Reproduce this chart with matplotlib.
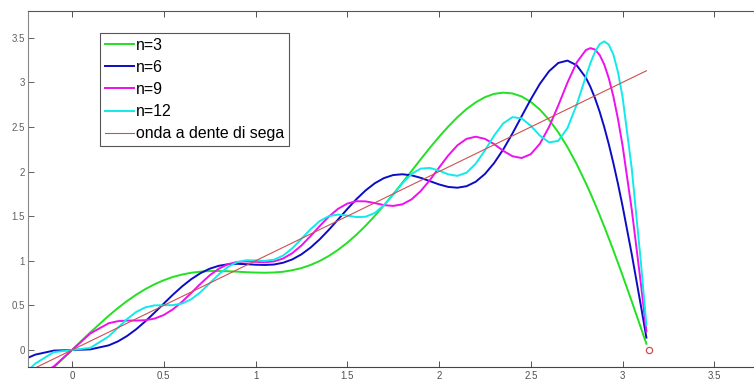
import matplotlib
matplotlib.use('Agg')
import matplotlib.pyplot as plt
from matplotlib.ticker import FormatStrFormatter

plt.rcParams['font.family'] = ['Liberation Sans', 'DejaVu Sans']

# somme parziali della serie di Fourier dell'onda a dente di sega
x = [-0.25, -0.2, -0.1, 0, 0.1, 0.2, 0.25,
     0.3, 0.35, 0.4, 0.45, 0.5, 0.55, 0.6, 0.65, 0.7, 0.75, 0.8, 0.85, 0.9, 0.95,
     1.0, 1.05, 1.1, 1.15, 1.2, 1.25, 1.3, 1.35, 1.4, 1.45, 1.5, 1.55, 1.6, 1.65,
     1.7, 1.75, 1.8, 1.85, 1.9, 1.95, 2.0, 2.05, 2.1, 2.15, 2.2, 2.25, 2.3, 2.35,
     2.4, 2.45, 2.5,
     2.55, 2.6, 2.65, 2.7, 2.75, 2.8, 2.825, 2.85, 2.875, 2.9, 2.925, 2.95, 2.975,
     3.0, 3.05, 3.1, 3.13]

n3 = [-0.470, -0.384, -0.198, 0, 0.198, 0.384, 0.470,
      0.549, 0.620, 0.683, 0.737, 0.782, 0.819, 0.846, 0.866, 0.878, 0.885, 0.885,
      0.883, 0.878, 0.872, 0.868, 0.866, 0.869, 0.877, 0.894, 0.918, 0.953, 0.998,
      1.055, 1.123, 1.202, 1.293, 1.393, 1.504, 1.622, 1.746, 1.875, 2.006, 2.137,
      2.266, 2.389, 2.504, 2.609, 2.701, 2.776, 2.834, 2.871, 2.885, 2.876, 2.842,
      2.781,
      2.694, 2.580, 2.440, 2.274, 2.084, 1.871, 1.757, 1.637, 1.513, 1.385, 1.253,
      1.117, 0.978, 0.836, 0.546, 0.249, 0.070]

n6 = [-0.096, -0.052, -0.007, 0, 0.007, 0.052, 0.096,
      0.157, 0.233, 0.322, 0.419, 0.520, 0.620, 0.713, 0.794, 0.861, 0.911, 0.944,
      0.961, 0.966, 0.962, 0.956, 0.953, 0.958, 0.978, 1.015, 1.072, 1.148, 1.241,
      1.348, 1.463, 1.580, 1.691, 1.789, 1.869, 1.927, 1.961, 1.970, 1.958, 1.930,
      1.893, 1.856, 1.828, 1.819, 1.836, 1.886, 1.973, 2.095, 2.248, 2.427, 2.619,
      2.810,
      2.985, 3.126, 3.218, 3.244, 3.192, 3.053, 2.949, 2.822, 2.673, 2.501, 2.308,
      2.095, 1.864, 1.615, 1.076, 0.497, 0.139]

n9 = [-0.323, -0.300, -0.186, 0, 0.186, 0.300, 0.323,
      0.330, 0.330, 0.334, 0.352, 0.392, 0.456, 0.541, 0.640, 0.742, 0.836, 0.911,
      0.962, 0.987, 0.993, 0.988, 0.984, 0.993, 1.025, 1.085, 1.171, 1.277, 1.390,
      1.496, 1.583, 1.641, 1.668, 1.666, 1.647, 1.624, 1.615, 1.633, 1.688, 1.781,
      1.904, 2.044, 2.180, 2.294, 2.367, 2.391, 2.367, 2.308, 2.233, 2.172, 2.152,
      2.195,
      2.313, 2.502, 2.742, 2.998, 3.222, 3.362, 3.384, 3.368, 3.308, 3.202, 3.047,
      2.843, 2.591, 2.293, 1.577, 0.742, 0.209]

n12 = [-0.249, -0.152, -0.024, 0, 0.024, 0.152, 0.249,
       0.347, 0.427, 0.478, 0.500, 0.502, 0.503, 0.521, 0.569, 0.648, 0.747, 0.848,
       0.932, 0.985, 1.006, 1.004, 0.999, 1.012, 1.058, 1.139, 1.245, 1.354, 1.445,
       1.501, 1.518, 1.507, 1.490, 1.494, 1.536, 1.623, 1.741, 1.868, 1.973, 2.033,
       2.041, 2.011, 1.969, 1.952, 1.988, 2.088, 2.237, 2.403, 2.540, 2.610, 2.597,
       2.513,
       2.403, 2.327, 2.344, 2.488, 2.749, 3.066, 3.217, 3.342, 3.428, 3.459, 3.424,
       3.312, 3.117, 2.838, 2.038, 0.983, 0.278]

saw_x = [-0.25, 3.13]
saw_y = [-0.25, 3.13]
jump_x = [3.1416]
jump_y = [0]

labels = ['n=3', 'n=6', 'n=9', 'n=12', 'onda a dente di sega']
colors = ['#22e022', '#0c0cc4', '#ee10ee', '#10eaea', '#cc5050']

fig = plt.figure(figsize=(7.54, 3.80), dpi=100)
ax = fig.add_axes([27.7 / 754, 12.7 / 380, 760 / 754, 356.3 / 380])

for ys, lab, col in zip([n3, n6, n9, n12], labels[:4], colors[:4]):
    ax.plot(x, ys, color=col, lw=1.4, label=lab)
ax.plot(saw_x, saw_y, color=colors[4], lw=0.8, label=labels[4])
ax.plot(jump_x, jump_y, 'o', ms=4.5, mfc='none', mec=colors[4], mew=0.9)

ax.set_xlim(-0.2414, 3.9)
ax.set_ylim(-0.194, 3.80)
ax.set_xticks([0, 0.5, 1, 1.5, 2, 2.5, 3, 3.5])
ax.set_yticks([0, 0.5, 1, 1.5, 2, 2.5, 3, 3.5])
ax.xaxis.set_major_formatter(FormatStrFormatter('%g'))
ax.yaxis.set_major_formatter(FormatStrFormatter('%g'))
ax.tick_params(direction='in', length=4.5, width=0.7, colors='#505050',
               labelsize=7, top=True, right=False, pad=2.5)
ax.tick_params(axis='y', colors='#606060', pad=2)
for side in ['left', 'bottom', 'top']:
    ax.spines[side].set_linewidth(0.8)
ax.spines['left'].set_color('#888888')
ax.spines['bottom'].set_color('#444444')
ax.spines['top'].set_color('#555555')
ax.spines['right'].set_visible(False)

leg = ax.legend(loc='upper left', bbox_to_anchor=(100 / 754, 1 - 33 / 380),
                bbox_transform=fig.transFigure, borderaxespad=0, fontsize=11.4,
                fancybox=False, framealpha=1, edgecolor='#555555',
                handlelength=1.85, handletextpad=0.12, labelspacing=0.45,
                borderpad=0.3)
leg.get_frame().set_linewidth(0.8)

fig.savefig('out.png', dpi=100)
